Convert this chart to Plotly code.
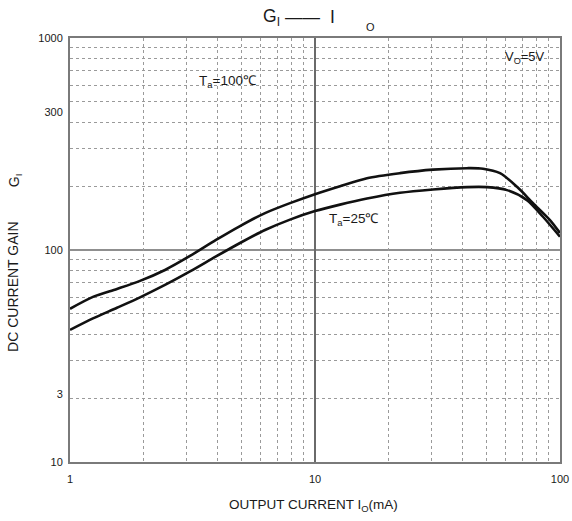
import plotly.graph_objects as go

# ---- data ----
current_100c = [1, 1.241, 1.555, 1.931, 2.442, 3.089, 3.944, 4.943, 6.251, 7.906, 10, 12.65, 16.3,
                22.23, 30.31, 41.73, 48.51, 56.9, 66.76, 77.6, 91.0, 100]
gain_100c = [52.8, 60.1, 65.5, 71.5, 80.5, 93.7, 111.5, 129.7, 149.3, 166.4, 183.4, 200.1, 218.2,
             230.4, 239.3, 243.2, 241.9, 230.4, 198.6, 166.4, 138.4, 120.2]

current_25c = [1, 1.241, 1.555, 1.931, 2.442, 3.089, 3.944, 4.943, 6.251, 7.906, 10, 12.65, 16.3,
               22.23, 30.31, 41.73, 50.35, 60.77, 73.3, 85.2, 100]
gain_25c = [42.0, 47.6, 53.4, 59.8, 68.4, 79.2, 93.2, 107.9, 124.2, 139.1, 152.6, 163.7, 174.8,
            186.1, 193.0, 198.0, 198.0, 191.6, 171.9, 143.5, 115.5]

x_tick_vals = [1, 10, 100]
x_tick_text = ["1", "10", "100"]
x_minor_vals = [2, 3, 4, 5, 6, 7, 8, 9, 20, 30, 40, 50, 60, 70, 80, 90]

y_tick_vals = [1000, 449, 100, 21, 10]
y_tick_text = ["1000", "300", "100", "3", "10"]
y_minor_vals = [20, 30, 40, 50, 60, 70, 80, 90, 200, 300, 400, 500, 600, 700, 800, 900]

W, H = 572, 521
L, R, T, B = 70, 560, 37.5, 462.5


def px(x):
    return (x - L) / (R - L)


def py(y):
    return (B - y) / (B - T)


FONT = "Arial"
TXT = "#1a1a1a"

fig = go.Figure()
for xs, ys in ((current_100c, gain_100c), (current_25c, gain_25c)):
    fig.add_trace(go.Scatter(x=xs, y=ys, mode="lines",
                             line=dict(color="#111", width=2.6, shape="spline", smoothing=0.8),
                             showlegend=False, hoverinfo="skip"))

fig.add_shape(type="line", xref="paper", x0=0, x1=1, yref="y", y0=100, y1=100,
              line=dict(color="#6a6a6a", width=1.5), layer="below")

annots = [
    dict(text="G<sub>I</sub>", x=px(261), y=py(17), xanchor="left", yanchor="middle", size=17.5),
    dict(text="——", x=px(283), y=py(16), xanchor="left", yanchor="middle", size=17.5),
    dict(text="I", x=px(332), y=py(16), xanchor="center", yanchor="middle", size=17.5),
    dict(text="O", x=px(370), y=py(26), xanchor="center", yanchor="middle", size=11),
    dict(text="T<sub>a</sub>=100℃", x=px(197), y=py(81), xanchor="left", yanchor="middle", size=13.5),
    dict(text="T<sub>a</sub>=25℃", x=px(327), y=py(219), xanchor="left", yanchor="middle", size=13.5),
    dict(text="V<sub>O</sub>=5V", x=px(503), y=py(57), xanchor="left", yanchor="middle", size=13),
    dict(text="OUTPUT CURRENT I<sub>O</sub>(mA)", x=px(313), y=py(506), xanchor="center", yanchor="middle", size=13.5),
]
for a in annots:
    fig.add_annotation(text=a["text"], x=a["x"], y=a["y"], xref="paper", yref="paper",
                       xanchor=a["xanchor"], yanchor=a["yanchor"], showarrow=False,
                       font=dict(family=FONT, size=a["size"], color=TXT))

fig.add_annotation(text="DC CURRENT GAIN", x=px(13), y=py(287), xref="paper", yref="paper",
                   textangle=-90, showarrow=False, xanchor="center", yanchor="middle",
                   font=dict(family=FONT, size=14, color=TXT))
fig.add_annotation(text="G<sub>I</sub>", x=px(15), y=py(180), xref="paper", yref="paper",
                   textangle=-90, showarrow=False, xanchor="center", yanchor="middle",
                   font=dict(family=FONT, size=14, color=TXT))

fig.update_xaxes(type="log", range=[0, 2], tickmode="array", tickvals=x_tick_vals, ticktext=x_tick_text,
                 showgrid=True, gridcolor="#6a6a6a", gridwidth=1.5, automargin=False,
                 showline=True, mirror=True, linecolor="#7a7a7a", linewidth=2,
                 ticks="", zeroline=False, ticklabelstandoff=6,
                 tickfont=dict(family=FONT, size=11, color=TXT),
                 minor=dict(tickmode="array", tickvals=x_minor_vals, showgrid=True,
                            griddash="dot", gridcolor="#9a9a9a", gridwidth=1, ticks=""))
fig.update_yaxes(type="log", range=[1, 3], tickmode="array", tickvals=y_tick_vals, ticktext=y_tick_text,
                 showgrid=False, automargin=False,
                 showline=True, mirror=True, linecolor="#7a7a7a", linewidth=2,
                 ticks="", zeroline=False, ticklabelstandoff=3,
                 tickfont=dict(family=FONT, size=11, color=TXT),
                 minor=dict(tickmode="array", tickvals=y_minor_vals, showgrid=True,
                            griddash="dot", gridcolor="#9a9a9a", gridwidth=1, ticks=""))

fig.update_layout(width=W, height=H, margin=dict(l=L, r=W - R, t=T, b=H - B, autoexpand=False),
                  paper_bgcolor="white", plot_bgcolor="white", showlegend=False)

fig.write_html("out.html")
